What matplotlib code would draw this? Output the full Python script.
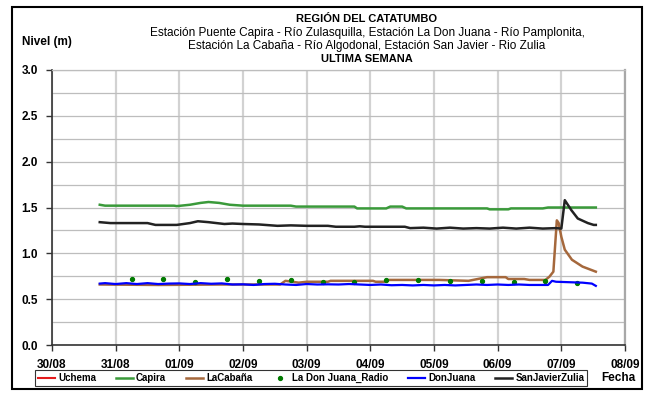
import matplotlib
matplotlib.use("Agg")
import matplotlib.pyplot as plt
from matplotlib.patches import Rectangle

plt.rcParams['font.family'] = ['Liberation Sans', 'DejaVu Sans']

# ---- data (time in hours since 30/08 00:00) ----
tick_labels = ['30/08', '31/08', '01/09', '02/09', '03/09', '04/09', '05/09', '06/09', '07/09', '08/09']
y_ticks = [0.0, 0.5, 1.0, 1.5, 2.0, 2.5, 3.0]

uchema_t = []
uchema_v = []

capira_t = [18, 20, 46, 47, 52, 56, 59, 63, 67, 72, 90, 92, 114, 115, 126, 127.5, 132, 133.5, 164, 165, 172, 173, 185, 187, 205]
capira_v = [1.53, 1.52, 1.52, 1.515, 1.53, 1.55, 1.56, 1.55, 1.53, 1.52, 1.52, 1.51, 1.51, 1.49, 1.49, 1.51, 1.51, 1.49, 1.49, 1.48, 1.48, 1.49, 1.49, 1.50, 1.50]

cabana_t = [18, 40, 64, 86, 88, 93, 96, 104, 105, 121, 122, 126, 127, 146, 157, 164, 171, 172, 178, 180, 186, 187.5, 189, 190.3, 191, 192, 193.3, 196, 200, 205]
cabana_v = [0.66, 0.655, 0.66, 0.66, 0.70, 0.68, 0.69, 0.69, 0.70, 0.70, 0.69, 0.69, 0.71, 0.71, 0.70, 0.74, 0.74, 0.72, 0.72, 0.71, 0.71, 0.745, 0.80, 1.36, 1.33, 1.18, 1.04, 0.93, 0.855, 0.80]

radio_t = [30, 42, 54, 66, 78, 90, 102, 114, 126, 138, 150, 162, 174, 186, 198]
radio_v = [0.72, 0.716, 0.69, 0.716, 0.70, 0.705, 0.69, 0.69, 0.705, 0.705, 0.695, 0.695, 0.684, 0.695, 0.673]

donjuana_t = [18, 20, 24, 28, 32, 36, 40, 44, 48, 52, 56, 60, 64, 68, 72, 76, 80, 84, 88, 92, 96, 100, 104, 108, 112,
              116, 120, 124, 128, 132, 136, 140, 144, 148, 152, 156, 160, 164, 168, 172, 176, 180, 184, 187, 188.5,
              190, 195, 200, 203.5, 205]
donjuana_v = [0.67, 0.675, 0.665, 0.675, 0.665, 0.675, 0.665, 0.67, 0.672, 0.665, 0.675, 0.668, 0.672, 0.66, 0.662,
              0.655, 0.665, 0.668, 0.66, 0.655, 0.665, 0.66, 0.662, 0.66, 0.665, 0.66, 0.655, 0.66, 0.652, 0.655,
              0.65, 0.655, 0.65, 0.655, 0.65, 0.655, 0.66, 0.655, 0.66, 0.655, 0.66, 0.655, 0.655, 0.655, 0.70,
              0.69, 0.685, 0.68, 0.67, 0.645]

sanjavier_t = [18, 22, 36, 39, 47, 52, 55, 59, 62, 65, 68, 72, 78, 85, 90, 96, 104, 107, 114, 116, 118, 133, 135, 140,
               145, 150, 155, 160, 165, 170, 175, 180, 185, 190, 192, 193.3, 195.8, 198.2, 202, 204.2, 205]
sanjavier_v = [1.34, 1.33, 1.33, 1.31, 1.31, 1.33, 1.35, 1.34, 1.33, 1.32, 1.325, 1.32, 1.315, 1.30, 1.305, 1.30, 1.30,
               1.29, 1.29, 1.295, 1.29, 1.29, 1.275, 1.28, 1.27, 1.28, 1.27, 1.275, 1.27, 1.28, 1.27, 1.28, 1.27,
               1.275, 1.27, 1.58, 1.47, 1.38, 1.33, 1.31, 1.31]

# ---- figure ----
fig = plt.figure(figsize=(6.52, 3.94), dpi=100)
ax = fig.add_axes([52 / 652, 1 - 345 / 394, (625 - 52) / 652, (345 - 70) / 394])

def d(ts):
    return [t / 24.0 for t in ts]

c_uch = '#e41a1c'
c_cap = '#3a9a3a'
c_cab = '#a5683c'
c_rad = '#007a00'
c_don = '#0000ff'
c_san = '#222222'

ax.plot(d(uchema_t), uchema_v, color=c_uch, lw=1.5, label='Uchema')
ax.plot(d(capira_t), capira_v, color=c_cap, lw=1.8, label='Capira')
ax.plot(d(cabana_t), cabana_v, color=c_cab, lw=1.8, label='LaCabaña')
ax.plot(d(radio_t), radio_v, ls='none', marker='o', ms=2.8, color=c_rad, label='La Don Juana_Radio')
ax.plot(d(donjuana_t), donjuana_v, color=c_don, lw=1.6, label='DonJuana')
ax.plot(d(sanjavier_t), sanjavier_v, color=c_san, lw=1.8, label='SanJavierZulia')

ax.set_xlim(0, len(tick_labels) - 1)
ax.set_ylim(0, 3.0)
ax.set_xticks(range(len(tick_labels)))
ax.set_xticklabels(tick_labels, fontsize=8.5, fontweight='bold')
ax.set_yticks(y_ticks)
ax.set_yticklabels(['%.1f' % v for v in y_ticks], fontsize=8.5, fontweight='bold')
ax.set_yticks([0.25 * i for i in range(13)], minor=True)
ax.tick_params(axis='y', which='minor', length=0)
ax.tick_params(axis='both', which='major', direction='out', length=4, width=1, color='#333333', pad=6)

ax.grid(axis='y', which='both', color='#bdbdbd', lw=0.9)
ax.grid(axis='x', which='major', color='#d2d2d2', lw=1.6)
ax.set_axisbelow(True)

for s in ['left', 'bottom']:
    ax.spines[s].set_color('#333333')
    ax.spines[s].set_linewidth(1.2)
ax.spines['top'].set_color('#bdbdbd')
ax.spines['top'].set_linewidth(0.9)
ax.spines['right'].set_color('#a8a8a8')
ax.spines['right'].set_linewidth(1.6)

# titles
cx = 367 / 652
fig.text(cx, 1 - 19 / 394, 'REGIÓN DEL CATATUMBO', ha='center', va='center', fontsize=8, fontweight='bold')
fig.text(cx, 1 - 33 / 394, 'Estación Puente Capira - Río Zulasquilla, Estación La Don Juana - Río Pamplonita,',
         ha='center', va='center', fontsize=8.5)
fig.text(cx, 1 - 46.5 / 394, 'Estación La Cabaña - Río Algodonal, Estación San Javier - Rio Zulia',
         ha='center', va='center', fontsize=8.5)
fig.text(cx, 1 - 59 / 394, 'ULTIMA SEMANA', ha='center', va='center', fontsize=8, fontweight='bold')
fig.text(22 / 652, 1 - 42 / 394, 'Nivel (m)', ha='left', va='center', fontsize=8.5, fontweight='bold')
fig.text(618 / 652, 1 - 378 / 394, 'Fecha', ha='center', va='center', fontsize=8.5, fontweight='bold')

# legend
handles, labels = ax.get_legend_handles_labels()
leg = fig.legend(handles, labels, loc='center', ncol=6,
                 bbox_to_anchor=(30 / 652, 1 - 388 / 394, (592 - 30) / 652, 20 / 394),
                 mode='expand', frameon=True, fancybox=False, edgecolor='#000000',
                 prop={'size': 7, 'weight': 'bold'}, handlelength=1.8, handletextpad=0.3,
                 columnspacing=0.8, borderpad=0.3, markerscale=1.0)
leg.get_frame().set_linewidth(0.8)

# outer border
fig.patches.append(Rectangle((12 / 652, 1 - 389 / 394), (642 - 12) / 652, (389 - 7) / 394,
                             transform=fig.transFigure, fill=False, edgecolor='black', lw=1.5))

fig.savefig('out.png', dpi=100)
